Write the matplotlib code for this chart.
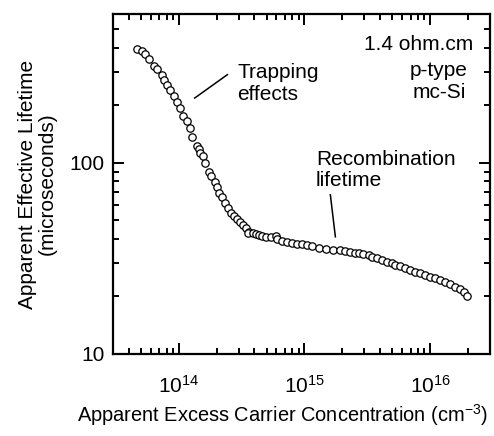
import numpy as np
import matplotlib
matplotlib.use('Agg')
import matplotlib.pyplot as plt
from matplotlib.ticker import LogLocator, LogFormatterSciNotation, FuncFormatter, NullFormatter

# ================= data =================
# apparent excess carrier concentration (cm^-3)
carrier_conc = np.array([
    4.66e13, 5.07e13, 5.38e13, 5.79e13, 6.38e13, 6.74e13, 7.30e13, 7.61e13,
    8.08e13, 8.60e13, 9.13e13, 9.70e13, 1.03e14, 1.08e14, 1.17e14, 1.22e14,
    1.28e14, 1.40e14, 1.45e14, 1.47e14, 1.56e14, 1.63e14, 1.74e14, 1.81e14,
    1.93e14, 2.01e14, 2.11e14, 2.22e14, 2.33e14, 2.47e14, 2.61e14, 2.75e14,
    2.90e14, 3.06e14, 3.24e14, 3.43e14, 3.64e14, 3.54e14, 3.87e14, 4.11e14,
    4.37e14, 4.64e14, 4.94e14, 5.41e14, 5.92e14, 6.10e14, 6.68e14, 7.31e14,
    8.01e14, 8.77e14, 9.61e14, 1.05e15, 1.15e15, 1.30e15, 1.48e15, 1.68e15,
    1.91e15, 2.09e15, 2.32e15, 2.54e15, 2.73e15, 2.95e15, 3.24e15, 3.48e15,
    3.76e15, 4.12e15, 4.51e15, 4.94e15, 5.29e15, 5.76e15, 6.31e15, 6.91e15,
    7.57e15, 8.29e15, 9.08e15, 9.95e15, 1.09e16, 1.19e16, 1.31e16, 1.43e16,
    1.57e16, 1.72e16, 1.85e16, 1.98e16,
])
# apparent effective lifetime (microseconds)
lifetime_us = np.array([
    394, 386, 371, 349, 322, 309, 288, 270,
    256, 241, 224, 209, 193, 175, 166, 152,
    137, 123, 118, 112, 108, 100, 90.0, 84.8,
    78.9, 74.6, 69.9, 66.1, 61.4, 57.9, 54.7, 52.5,
    50.6, 48.9, 47.4, 45.5, 43.7, 42.8, 42.8, 42.5,
    42.0, 41.5, 41.1, 40.7, 41.3, 39.9, 38.8, 38.3,
    38.0, 37.7, 37.4, 37.1, 36.6, 36.0, 35.6, 35.0,
    34.8, 34.5, 34.2, 33.9, 33.7, 33.3, 32.9, 32.3,
    31.7, 31.1, 30.4, 29.9, 29.2, 28.7, 28.1, 27.5,
    27.0, 26.5, 25.9, 25.4, 24.9, 24.4, 23.8, 23.2,
    22.4, 21.8, 21.1, 20.0,
])

# annotation pointer lines (x pair, y pair)
trap_line_x = [1.34e14, 2.44e14]
trap_line_y = [218, 289]
recomb_line_x = [1.61e15, 1.765e15]
recomb_line_y = [68, 41]

# ================= style =================
plt.rcParams['font.family'] = ['Liberation Sans', 'DejaVu Sans']
plt.rcParams['mathtext.fontset'] = 'custom'
plt.rcParams['mathtext.rm'] = 'Liberation Sans'
plt.rcParams['mathtext.it'] = 'Liberation Sans:italic'
plt.rcParams['mathtext.bf'] = 'Liberation Sans:bold'
FS = 15

fig = plt.figure(figsize=(4.94, 4.36), dpi=100)
ax = fig.add_axes([0.2287, 0.1881, 0.7632, 0.7798])

ax.plot(carrier_conc, lifetime_us, 'o', ls='none', mfc='white', mec='black',
        ms=5.3, mew=0.9)

ax.set_xscale('log')
ax.set_yscale('log')
ax.set_xlim(3e13, 3e16)
ax.set_ylim(10, 600)

ax.xaxis.set_major_locator(LogLocator(base=10))
ax.xaxis.set_minor_locator(LogLocator(base=10, subs=np.arange(2, 10)))
ax.xaxis.set_major_formatter(LogFormatterSciNotation())
ax.xaxis.set_minor_formatter(NullFormatter())
ax.yaxis.set_major_locator(LogLocator(base=10))
ax.yaxis.set_minor_locator(LogLocator(base=10, subs=np.arange(2, 10)))
ax.yaxis.set_major_formatter(FuncFormatter(lambda v, p: f'{v:g}'))
ax.yaxis.set_minor_formatter(NullFormatter())

ax.tick_params(which='both', direction='in', top=True, right=True, width=1.4,
               labelsize=FS)
ax.tick_params(which='major', length=8)
ax.tick_params(which='minor', length=4.5)
ax.tick_params(axis='x', which='major', pad=15)
ax.tick_params(axis='y', which='major', pad=6)
for s in ax.spines.values():
    s.set_linewidth(1.6)

ax.set_ylabel('Apparent Effective Lifetime\n(microseconds)', fontsize=FS,
              linespacing=1.1)
ax.yaxis.set_label_coords(-0.148, 0.5)
ax.set_xlabel('Apparent Excess Carrier Concentration (cm$^{-3}$)', fontsize=14.4)
ax.xaxis.set_label_coords(0.449, -0.141)
ax.xaxis.label.set_va('top')

# annotations
ax.plot(trap_line_x, trap_line_y, color='black', lw=1.1)
ax.plot(recomb_line_x, recomb_line_y, color='black', lw=1.1)
ax.text(2.93e14, 279, 'Trapping', fontsize=FS, va='baseline')
ax.text(2.93e14, 214, 'effects', fontsize=FS, va='baseline')
ax.text(1.233e15, 97.6, 'Recombination', fontsize=FS, va='baseline')
ax.text(1.233e15, 75.8, 'lifetime', fontsize=FS, va='baseline')
ax.text(2.19e16, 390, '1.4 ohm.cm', fontsize=FS, va='baseline', ha='right')
ax.text(2.00e16, 285, 'p-type', fontsize=FS, va='baseline', ha='right')
ax.text(1.93e16, 219, 'mc-Si', fontsize=FS, va='baseline', ha='right')

fig.savefig('out.png', dpi=100)
